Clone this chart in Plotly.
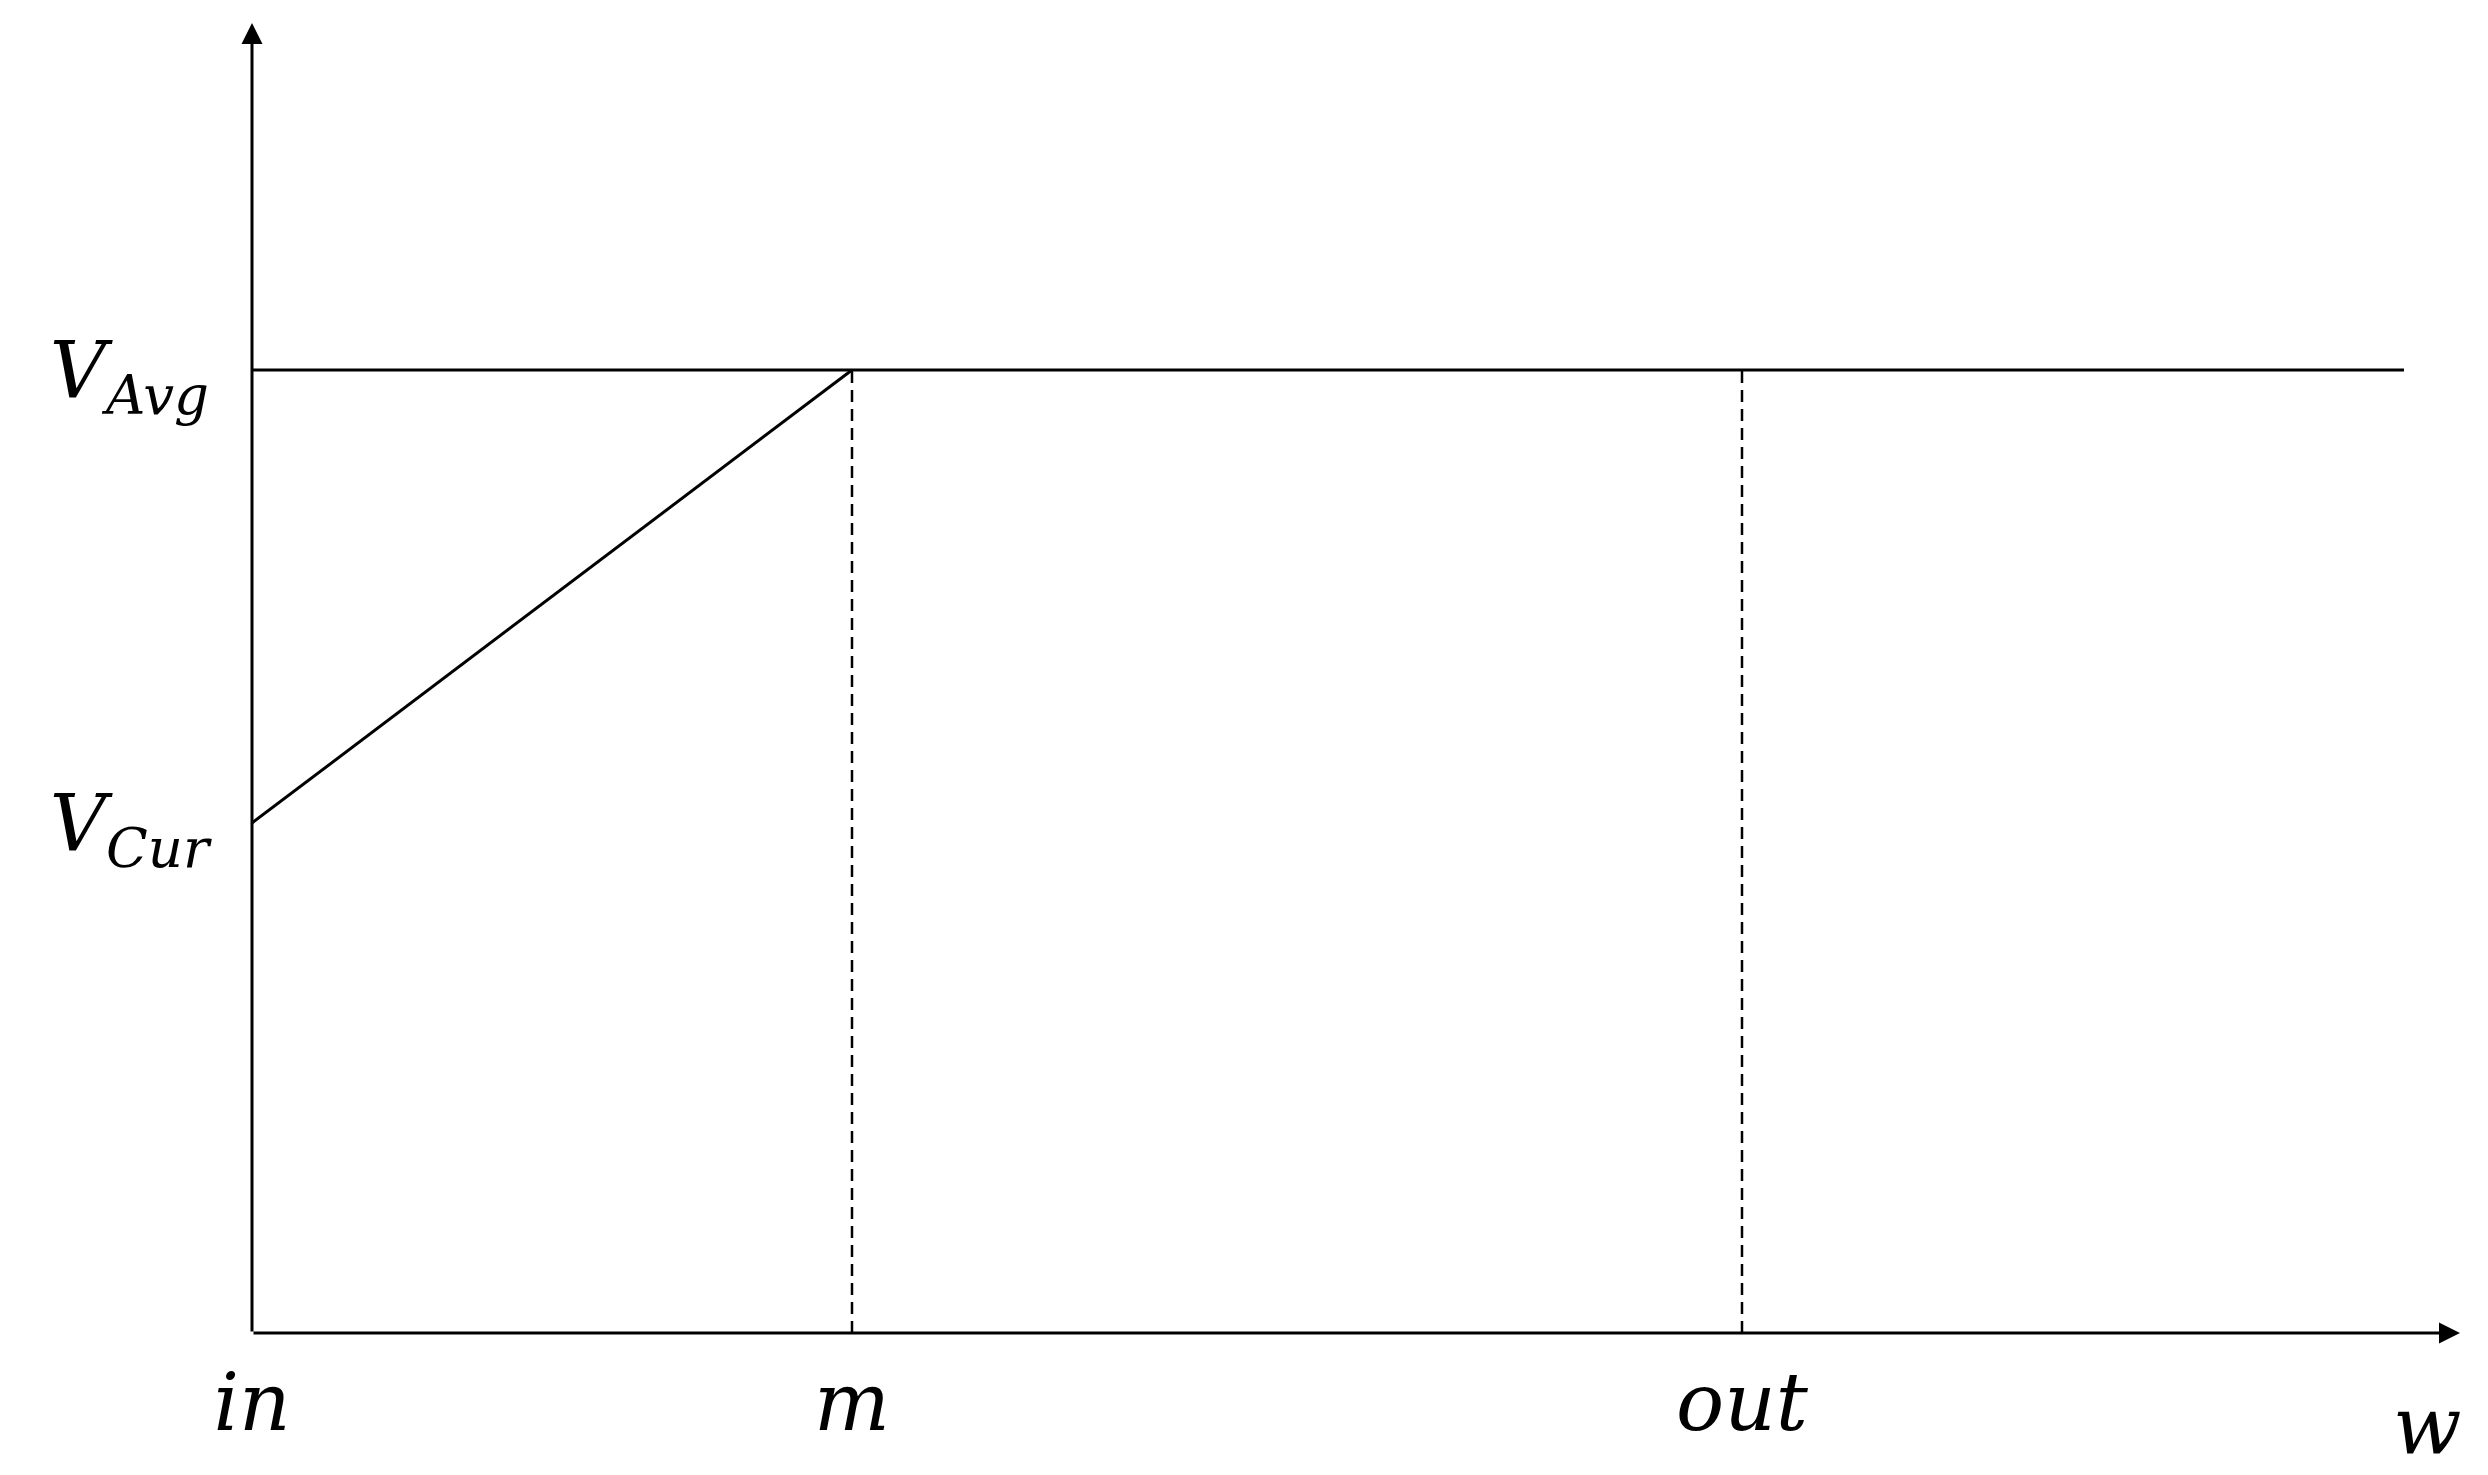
import plotly.graph_objects as go

# positions along w (arbitrary units)
x_names = ['in', 'm', 'out']
x_pos = [0, 6.0, 14.9]
w_end = 21.52        # end of the V_Avg plateau
w_axis_end = 22.08   # tip of the w arrow

# values on the vertical axis
v_names = ['V<sub>Avg</sub>', 'V<sub>Cur</sub>']
v_levels = [9.63, 5.1]
v_axis_end = 13.1

FONT = 'DejaVu Serif'
v_avg, v_cur = v_levels
x_in, x_m, x_out = x_pos

fig = go.Figure()

# rising part from V_Cur at "in" up to V_Avg at "m"
fig.add_trace(go.Scatter(x=[x_in, x_m], y=[v_cur, v_avg], mode='lines',
                         line=dict(color='black', width=3), cliponaxis=False))
# plateau at V_Avg
fig.add_trace(go.Scatter(x=[x_in, w_end], y=[v_avg, v_avg], mode='lines',
                         line=dict(color='black', width=3), cliponaxis=False))
# dashed drop lines at m and out
for xv in [x_m, x_out]:
    fig.add_trace(go.Scatter(x=[xv, xv], y=[0, v_avg], mode='lines',
                             line=dict(color='black', width=2.5, dash='12px,7px'),
                             cliponaxis=False))

# axes with arrow heads
fig.add_annotation(x=w_axis_end, y=0, ax=0, ay=0, xref='x', yref='y', axref='x', ayref='y',
                   showarrow=True, arrowhead=2, arrowsize=1.4, arrowwidth=3,
                   arrowcolor='black', standoff=0, text='')
fig.add_annotation(x=0, y=v_axis_end, ax=0, ay=0, xref='x', yref='y', axref='x', ayref='y',
                   showarrow=True, arrowhead=2, arrowsize=1.4, arrowwidth=3,
                   arrowcolor='black', standoff=0, text='')

# axis name (paper y so it is not hidden below the range)
fig.add_annotation(x=21.75, y=-0.071, xref='x', yref='paper', text='<i>w</i>', showarrow=False,
                   font=dict(family=FONT, size=80, color='black'),
                   xanchor='center', yanchor='middle')

fig.update_xaxes(range=[0, w_axis_end], showgrid=False, zeroline=False, showline=False,
                 automargin=False,
                 tickvals=x_pos, ticktext=['<i>%s</i>' % t for t in x_names],
                 ticks='', ticklabelstandoff=16,
                 tickfont=dict(family=FONT, size=80, color='black'))
fig.update_yaxes(range=[0, v_axis_end], showgrid=False, zeroline=False, showline=False,
                 automargin=False,
                 tickvals=v_levels, ticktext=['<i>%s</i>' % t for t in v_names],
                 ticks='', ticklabelstandoff=42,
                 tickfont=dict(family=FONT, size=78, color='black'))

# the page body adds 8px around the figure, so it is made 8px smaller
fig.update_layout(width=2480, height=1467, autosize=False,
                  margin=dict(l=244, r=28, t=15, b=142),
                  plot_bgcolor='white', paper_bgcolor='white',
                  showlegend=False)

fig.write_html('out.html')
